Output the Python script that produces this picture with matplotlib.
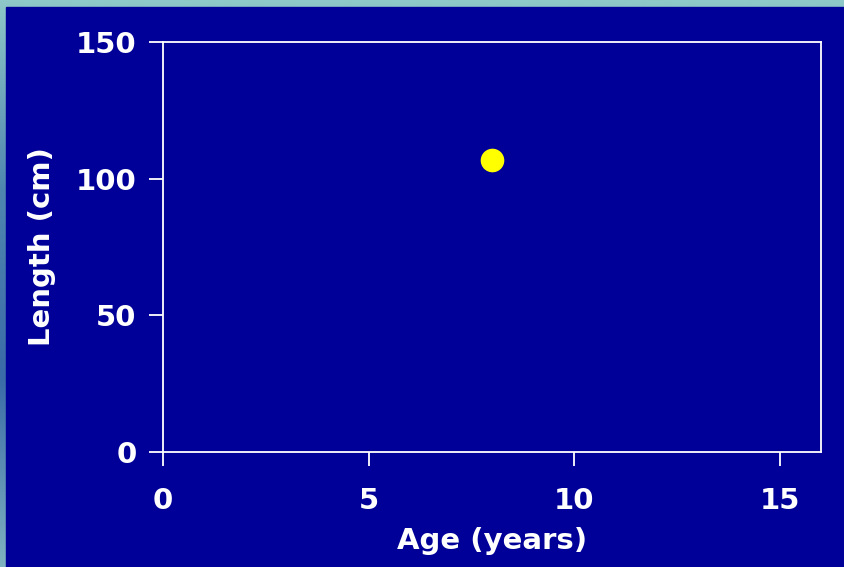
import numpy as np
import matplotlib.pyplot as plt
from matplotlib.patches import Rectangle
from matplotlib.colors import LinearSegmentedColormap

# data
ages = [8]
lengths = [107]
x_ticks = [0, 5, 10, 15]
y_ticks = [0, 50, 100, 150]

plt.rcParams['font.family'] = ['DejaVu Sans']
plt.rcParams['font.weight'] = 'bold'

blue = '#000099'
fig = plt.figure(figsize=(8.44, 5.67), dpi=100)

# marbled border behind the blue slide area
bg = fig.add_axes([0, 0, 1, 1], zorder=-2)
bg.axis('off')
cmap = LinearSegmentedColormap.from_list('edge', ['#8fc8c8', '#4f86b0', '#3a6aa8', '#7fb3c0'])
grad = np.linspace(0, 1, 256).reshape(-1, 1)
bg.imshow(grad, aspect='auto', cmap=cmap, extent=[0, 1, 0, 1])
bg.add_patch(Rectangle((6 / 844, 0), 1, 1 - 7 / 567, color=blue, transform=bg.transAxes))
bg.set_xlim(0, 1)
bg.set_ylim(0, 1)

ax = fig.add_axes([163 / 844, 115 / 567, 658 / 844, 410 / 567])
ax.set_facecolor(blue)
ax.plot(ages, lengths, 'o', color='#ffff00', ms=16, mec='#ffff00')

ax.set_xlim(0, 16)
ax.set_ylim(0, 150)
ax.set_xticks(x_ticks)
ax.set_yticks(y_ticks)
for s in ax.spines.values():
    s.set_color('white')
    s.set_linewidth(1.3)
ax.tick_params(colors='white', labelsize=21, length=10, width=1.3, direction='out')
ax.tick_params(axis='x', pad=15)
ax.tick_params(axis='y', pad=9)
ax.set_xlabel('Age (years)', color='white', fontsize=21, fontweight='bold', labelpad=9)
ax.set_ylabel('Length (cm)', color='white', fontsize=21, fontweight='bold', labelpad=14)

fig.savefig('out.png', dpi=100, facecolor=fig.get_facecolor())
